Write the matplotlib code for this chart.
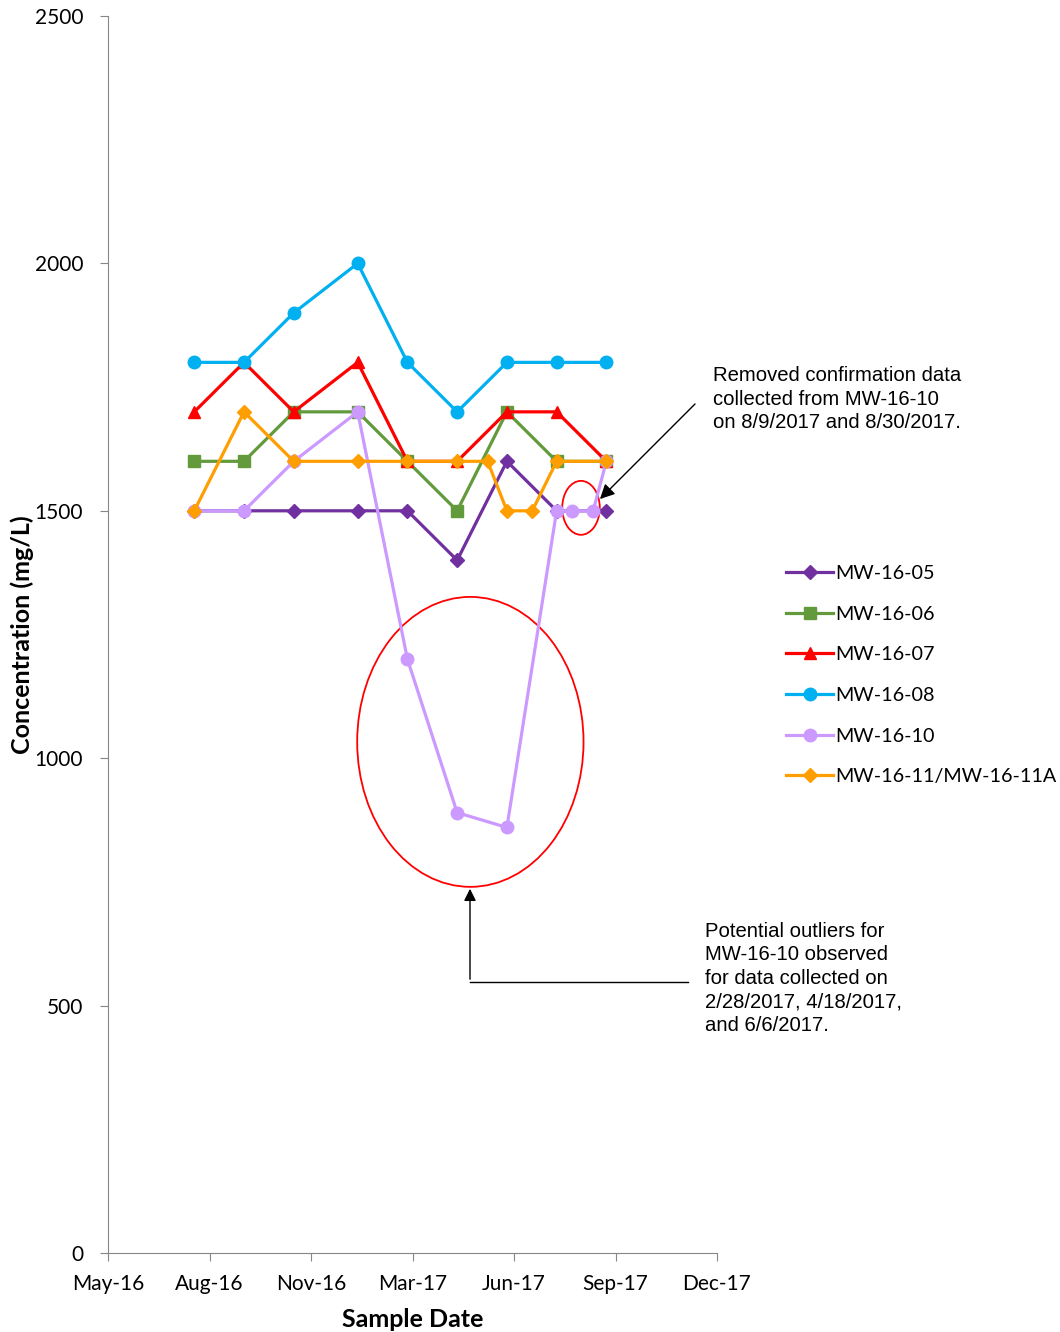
import pandas as pd
import matplotlib.pyplot as plt
import matplotlib.dates as mdates
from matplotlib.patches import Ellipse

# Sample dates and concentrations (mg/L)
dates_main = ["2016-08-02", "2016-09-20", "2016-11-08", "2017-01-10", "2017-02-28",
              "2017-04-18", "2017-06-06", "2017-07-25", "2017-09-12"]
dates_mw10 = ["2016-08-02", "2016-09-20", "2016-11-08", "2017-01-10", "2017-02-28",
              "2017-04-18", "2017-06-06", "2017-07-25", "2017-08-09", "2017-08-30", "2017-09-12"]
dates_mw11 = ["2016-08-02", "2016-09-20", "2016-11-08", "2017-01-10", "2017-02-28",
              "2017-04-18", "2017-05-18", "2017-06-06", "2017-07-01", "2017-07-25", "2017-09-12"]

mw05 = [1500, 1500, 1500, 1500, 1500, 1400, 1600, 1500, 1500]
mw06 = [1600, 1600, 1700, 1700, 1600, 1500, 1700, 1600, 1600]
mw07 = [1700, 1800, 1700, 1800, 1600, 1600, 1700, 1700, 1600]
mw08 = [1800, 1800, 1900, 2000, 1800, 1700, 1800, 1800, 1800]
mw10 = [1500, 1500, 1600, 1700, 1200, 890, 860, 1500, 1500, 1500, 1600]
mw11 = [1500, 1700, 1600, 1600, 1600, 1600, 1600, 1500, 1500, 1600, 1600]

series = [
    ("MW-16-05", dates_main, mw05, "#7030A0", "D", 7),
    ("MW-16-06", dates_main, mw06, "#629A3C", "s", 8.5),
    ("MW-16-07", dates_main, mw07, "#FF0000", "^", 9),
    ("MW-16-08", dates_main, mw08, "#00B0F0", "o", 9),
    ("MW-16-10", dates_mw10, mw10, "#CC99FF", "o", 9),
    ("MW-16-11/MW-16-11A", dates_mw11, mw11, "#FF9E00", "D", 7),
]

plt.rcParams['font.family'] = ['Lato', 'DejaVu Sans']

fig = plt.figure(figsize=(10.6, 13.32), dpi=100)
ax = fig.add_axes([108 / 1060, 1 - 1253 / 1332, (717 - 108) / 1060, (1253 - 16) / 1332])

for name, d, vals, color, marker, ms in series:
    ax.plot(pd.to_datetime(d), vals, color=color, marker=marker, markersize=ms,
            linewidth=2.3, label=name, clip_on=False)

start = pd.Timestamp("2016-05-09")
ticks = [start + pd.Timedelta(days=100 * k) for k in range(7)]
ax.set_xlim(ticks[0], ticks[-1])
ax.set_xticks(ticks)
ax.xaxis.set_major_formatter(mdates.DateFormatter('%b-%y'))
ax.set_ylim(0, 2500)
ax.set_yticks(range(0, 2501, 500))

for s in ["top", "right"]:
    ax.spines[s].set_visible(False)
for s in ["left", "bottom"]:
    ax.spines[s].set_color("#868686")
ax.tick_params(direction="out", length=6, color="#868686", labelsize=15)
ax.tick_params(axis="y", pad=12)
ax.tick_params(axis="x", pad=9)

ax.set_xlabel("Sample Date", fontsize=18, fontweight="bold", labelpad=10)
ax.set_ylabel("Concentration (mg/L)", fontsize=18, fontweight="bold", labelpad=0)

# outlier callouts
def day(n):
    return mdates.date2num(start + pd.Timedelta(days=n))

big = Ellipse((day(357), 1033), width=day(223) - day(0), height=586,
              fill=False, edgecolor="#FF0000", linewidth=1.3)
small = Ellipse((day(466), 1506), width=day(37) - day(0), height=109,
                fill=False, edgecolor="#FF0000", linewidth=1.3)
ax.add_patch(big)
ax.add_patch(small)

fig.text(713 / 1060, 1 - 366 / 1332,
         "Removed confirmation data\ncollected from MW-16-10\non 8/9/2017 and 8/30/2017.",
         fontsize=14.6, family="Liberation Sans", va="top", ha="left", linespacing=1.3)
ax.annotate("", xy=(598 / 1060, 1 - 501 / 1332), xycoords="figure fraction",
            xytext=(697 / 1060, 1 - 402 / 1332), textcoords="figure fraction",
            arrowprops=dict(arrowstyle="-|>", color="black", lw=1, mutation_scale=22),
            annotation_clip=False)

fig.text(705 / 1060, 1 - 922 / 1332,
         "Potential outliers for\nMW-16-10 observed\nfor data collected on\n2/28/2017, 4/18/2017,\nand 6/6/2017.",
         fontsize=14.6, family="Liberation Sans", va="top", ha="left", linespacing=1.3)
fig.add_artist(plt.Line2D([470 / 1060, 688 / 1060], [1 - 982 / 1332, 1 - 982 / 1332],
                          color="black", lw=1))
ax.annotate("", xy=(470 / 1060, 1 - 886 / 1332), xycoords="figure fraction",
            xytext=(470 / 1060, 1 - 982 / 1332), textcoords="figure fraction",
            arrowprops=dict(arrowstyle="-|>", color="black", lw=1, mutation_scale=18),
            annotation_clip=False)

fig.legend(loc="upper left", bbox_to_anchor=(778 / 1060, 1 - 557 / 1332),
           frameon=False, fontsize=14.2, handlelength=2.4, handletextpad=0.1,
           labelspacing=1.2, borderaxespad=0)

fig.savefig("out.png", dpi=100)
